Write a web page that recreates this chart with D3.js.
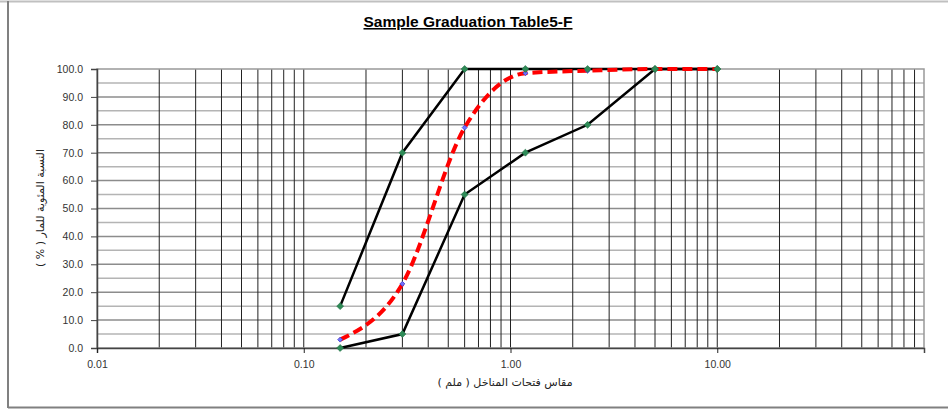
<!DOCTYPE html>
<html>
<head>
<meta charset="utf-8">
<script src="https://cdn.jsdelivr.net/npm/d3@7"></script>
<style>
  body { margin: 0; background: #fff; }
  text { font-family: "Liberation Sans", Arial, "DejaVu Sans", sans-serif; }
</style>
</head>
<body>
<div id="chart"></div>
<script>
// sieve sizes (mm) and percent passing
var sieves = [0.15, 0.3, 0.6, 1.18, 2.36, 5, 10];
var upperLimit = [15, 70, 100, 100, 100, 100, 100];
var lowerLimit = [0, 5, 55, 70, 80, 100, 100];
var sample = [3, 23, 79, 98.5, 99.4, 100, 100];
var xTickValues = [0.01, 0.1, 1, 10];
var yTickValues = [0, 10, 20, 30, 40, 50, 60, 70, 80, 90, 100];

var W = 948, H = 409;
var margin = {top: 69, right: 24, bottom: 61, left: 97},
    width = W - margin.left - margin.right,
    height = H - margin.top - margin.bottom;

var svg = d3.select("#chart")
  .append("svg")
    .attr("width", W)
    .attr("height", H);

// outer frame
svg.append("line").attr("x1", 0).attr("x2", W).attr("y1", 1.5).attr("y2", 1.5)
  .attr("stroke", "#c0c0c0").attr("stroke-width", 2);
svg.append("line").attr("x1", 8).attr("x2", 8).attr("y1", 1).attr("y2", 408)
  .attr("stroke", "#808080").attr("stroke-width", 2);
svg.append("line").attr("x1", 8).attr("x2", W).attr("y1", 407.5).attr("y2", 407.5)
  .attr("stroke", "#808080").attr("stroke-width", 2);

var g = svg.append("g")
  .attr("transform", "translate(" + margin.left + "," + margin.top + ")");

var x = d3.scaleLog().domain([0.01, 100]).range([0, width]);
var y = d3.scaleLinear().domain([0, 100]).range([height, 0]);

// horizontal grid every 5%
var hLines = d3.range(5, 100, 5);
g.selectAll(".hgrid")
  .data(hLines)
  .enter().append("line")
    .attr("x1", 0).attr("x2", width)
    .attr("y1", function(d) { return y(d); })
    .attr("y2", function(d) { return y(d); })
    .attr("stroke", function(d) { return d % 10 === 0 ? "#8c8c8c" : "#b4b4b4"; })
    .attr("stroke-width", 1.5);

// vertical log grid
var vLines = [];
[0.01, 0.1, 1, 10].forEach(function(dec) {
  for (var k = 1; k <= 9; k++) vLines.push(dec * k);
});
vLines = vLines.filter(function(d) { return d > 0.01; });
g.selectAll(".vgrid")
  .data(vLines)
  .enter().append("line")
    .attr("x1", function(d) { return x(d); })
    .attr("x2", function(d) { return x(d); })
    .attr("y1", 0).attr("y2", height)
    .attr("stroke", "#222")
    .attr("stroke-width", 1);

// plot border
g.append("rect")
  .attr("x", 0).attr("y", 0).attr("width", width).attr("height", height)
  .attr("fill", "none").attr("stroke", "#999").attr("stroke-width", 1.5);

// axes
var yAxis = g.append("g")
  .call(d3.axisLeft(y).tickValues(yTickValues).tickSize(6).tickPadding(8)
    .tickFormat(d3.format(".1f")));
yAxis.select(".domain").attr("stroke", "#444").attr("stroke-width", 1.5);
yAxis.selectAll(".tick line").attr("stroke", "#444");
yAxis.selectAll("text").attr("font-size", 10.5).attr("fill", "#333");

var xAxis = g.append("g")
  .attr("transform", "translate(0," + height + ")")
  .call(d3.axisBottom(x).tickValues(xTickValues).tickSize(5).tickPadding(8)
    .tickFormat(d3.format(".2f")));
xAxis.select(".domain").attr("stroke", "#444").attr("stroke-width", 1.5);
xAxis.selectAll(".tick line").attr("stroke", "#222");
xAxis.selectAll("text").attr("font-size", 10.5).attr("fill", "#333");

function series(vals) {
  return sieves.map(function(s, i) { return [s, vals[i]]; });
}

var straight = d3.line()
  .x(function(d) { return x(d[0]); })
  .y(function(d) { return y(d[1]); });

var smooth = d3.line()
  .x(function(d) { return x(d[0]); })
  .y(function(d) { return y(d[1]); })
  .curve(d3.curveMonotoneX);

[upperLimit, lowerLimit].forEach(function(vals) {
  g.append("path")
    .datum(series(vals))
    .attr("d", straight)
    .attr("fill", "none")
    .attr("stroke", "#000")
    .attr("stroke-width", 2.5);
});

g.append("path")
  .datum(series(sample))
  .attr("d", smooth)
  .attr("fill", "none")
  .attr("stroke", "#ff0000")
  .attr("stroke-width", 4)
  .attr("stroke-dasharray", "10,5");

// sample markers (small blue)
var diamond = d3.symbol().type(d3.symbolSquare);
g.selectAll(".sm")
  .data(series(sample))
  .enter().append("path")
    .attr("d", diamond.size(12))
    .attr("transform", function(d) { return "translate(" + x(d[0]) + "," + y(d[1]) + ") rotate(45)"; })
    .attr("fill", "#7070ff")
    .attr("stroke", "#4040cc")
    .attr("stroke-width", 0.8);

// limit markers (green diamonds)
g.selectAll(".lm")
  .data(series(upperLimit).concat(series(lowerLimit)))
  .enter().append("path")
    .attr("d", diamond.size(24))
    .attr("transform", function(d) { return "translate(" + x(d[0]) + "," + y(d[1]) + ") rotate(45)"; })
    .attr("fill", "#2e8b57")
    .attr("stroke", "#237046")
    .attr("stroke-width", 0.6);

// title
svg.append("text")
  .attr("x", 468).attr("y", 27)
  .attr("text-anchor", "middle")
  .attr("font-size", 15.5)
  .attr("font-weight", "bold")
  .attr("text-decoration", "underline")
  .text("Sample Graduation Table5-F");

// axis titles
svg.append("text")
  .attr("x", 505).attr("y", 386)
  .attr("text-anchor", "middle")
  .attr("direction", "rtl")
  .attr("font-size", 11)
  .attr("fill", "#222")
  .style("font-family", "'DejaVu Sans', sans-serif")
  .text("مقاس فتحات المناخل ( ملم )");

svg.append("text")
  .attr("transform", "translate(44,208) rotate(-90)")
  .attr("text-anchor", "middle")
  .attr("direction", "rtl")
  .attr("font-size", 11)
  .attr("fill", "#222")
  .style("font-family", "'DejaVu Sans', sans-serif")
  .text("النسبة المئوية للمار ( % )");
</script>
</body>
</html>
